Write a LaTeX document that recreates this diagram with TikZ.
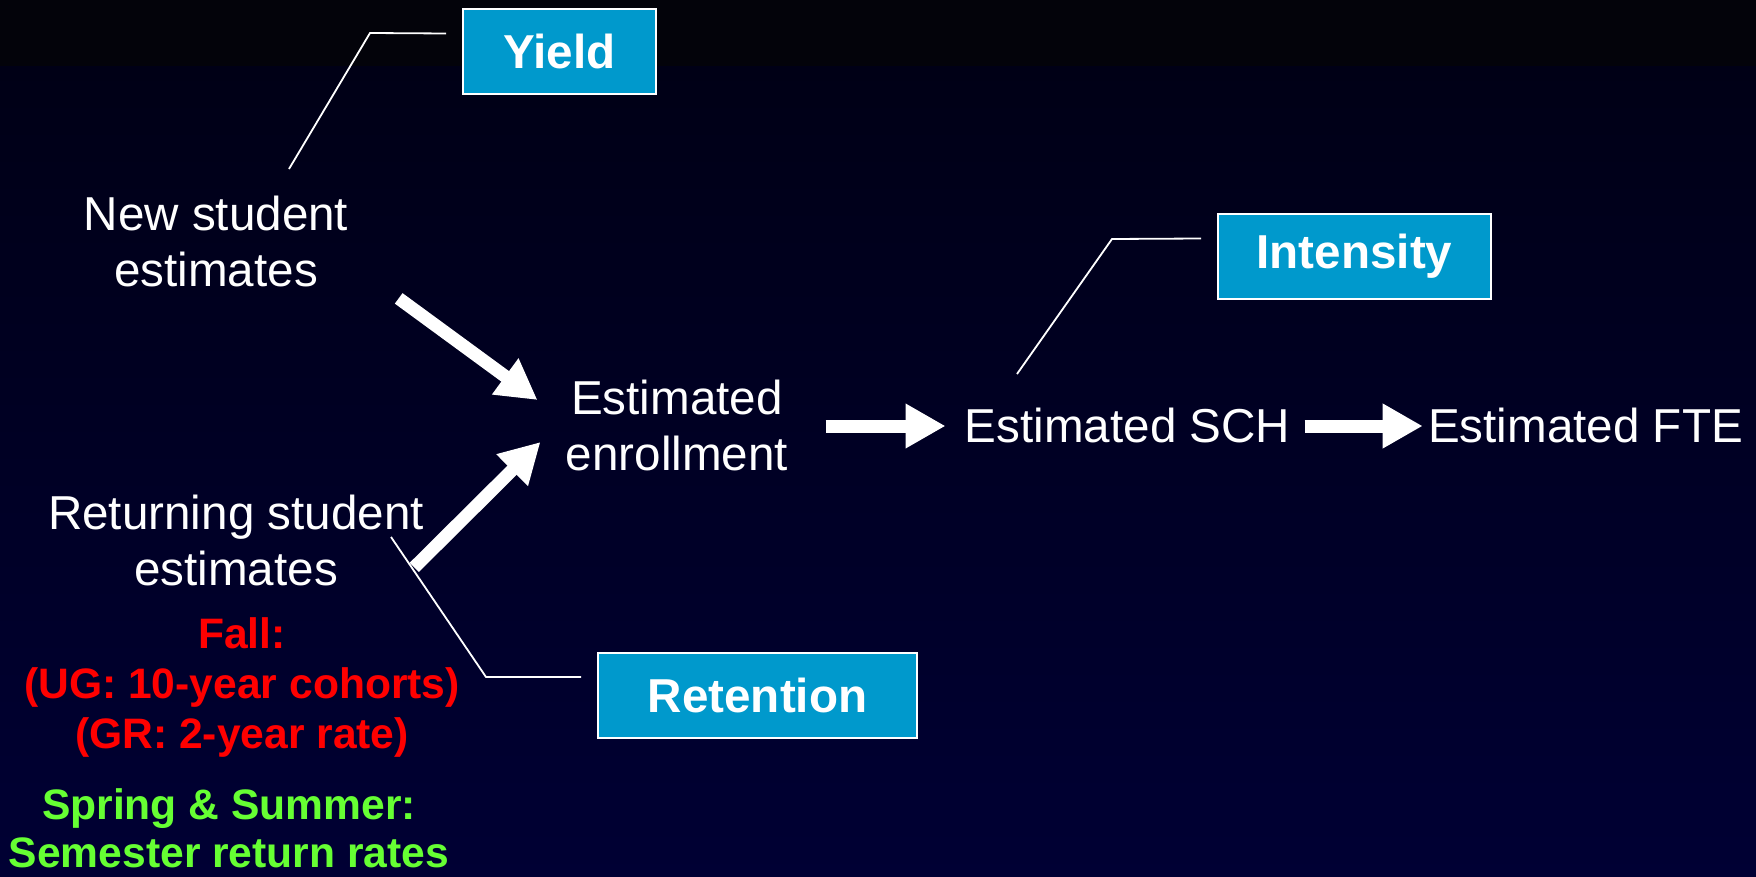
\documentclass[tikz,border=0pt]{standalone}
\usepackage{fontspec}
\setmainfont{Liberation Sans}
\usetikzlibrary{arrows.meta, positioning}
\definecolor{boxblue}{RGB}{0,153,204}
\definecolor{notered}{RGB}{255,0,0}
\definecolor{notegreen}{RGB}{102,255,51}
\definecolor{bgband}{RGB}{3,3,10}
\definecolor{bgtop}{RGB}{0,0,22}
\definecolor{bgbottom}{RGB}{0,0,52}

\begin{document}
\begin{tikzpicture}[x=0.5pt, y=-0.5pt]
	\tikzset {>={Triangle[width=21pt,length=20pt]}, node distance=88pt,
		txt/.style={inner sep=0pt, align=center, text=white, font=\fontsize{23.8}{28}\selectfont},
		note/.style={inner sep=0pt, align=center, font=\bfseries\fontsize{21.3}{25}\selectfont},
		infobox/.style={draw=white, line width=1pt, fill=boxblue, text=white, minimum height=42.5pt, font=\bfseries\fontsize{23.8}{28}\selectfont},
		leader/.style={draw=white, line width=0.9pt},
		bigarrow/.style={->, white, line width=6.5pt} }
	\useasboundingbox (0,0) rectangle (1756,877);
	\fill[bgband] (0,0) rectangle (1756,67);
	\shade[top color=bgtop, bottom color=bgbottom] (0,67) rectangle (1756,877);

	% estimates
	\node[txt] (newst) at (216,241) {New student\\estimates};
	\node[txt] (retst) at (236,540) {Returning student\\estimates};
	\node[txt] (enroll) at (677,425) {Estimated\\enrollment};
	\node[txt, right=of enroll] (sch) {Estimated SCH};
	\node[txt, right=68.5pt of sch] (fte) {Estimated FTE};

	% factors
	\node[infobox, minimum width=96.5pt] (yield) at (559.5,51.5) {Yield};
	\node[infobox, minimum width=136.5pt] (intens) at (1354.5,256.5) {Intensity};
	\node[infobox, minimum width=159.5pt] (retent) at (757.5,695) {Retention};

	\node[note, text=notered] (fall) at (242,687) {Fall:\\(UG: 10-year cohorts)\\(GR: 2-year rate)};
	\node[note, text=notegreen, font=\bfseries\fontsize{21.3}{24}\selectfont] (spring) at (229,828) {Spring \& Summer:\\Semester return rates};

	% leader lines
	\coordinate (yfoot) at (289,169);
	\coordinate (ifoot) at (1017,374);
	\coordinate (rfoot) at (391,537);
	\draw[leader] (yfoot) -- (370,33) -- ([xshift=-8pt,yshift=9pt]yield.west);
	\draw[leader] (ifoot) -- (1112,239) -- ([xshift=-8pt,yshift=9pt]intens.west);
	\draw[leader] (rfoot) -- (486,677) -- ([xshift=-8pt,yshift=9pt]retent.west);

	% flow
	\draw[bigarrow] ([xshift=25pt,yshift=-5.75pt]newst.south east) -- ([xshift=-14pt,yshift=12.5pt]enroll.west);
	\draw[bigarrow] ([xshift=-5pt,yshift=9.25pt]retst.south east) -- ([xshift=-12.5pt,yshift=-8.5pt]enroll.west);
	\draw[bigarrow] ([xshift=18.5pt,yshift=-0.5pt]enroll.east) -- ([xshift=-9.5pt,yshift=-0.5pt]sch.west);
	\draw[bigarrow] ([xshift=7pt,yshift=-0.5pt]sch.east) -- ([xshift=-2.5pt,yshift=-0.5pt]fte.west);
\end{tikzpicture}
\end{document}
